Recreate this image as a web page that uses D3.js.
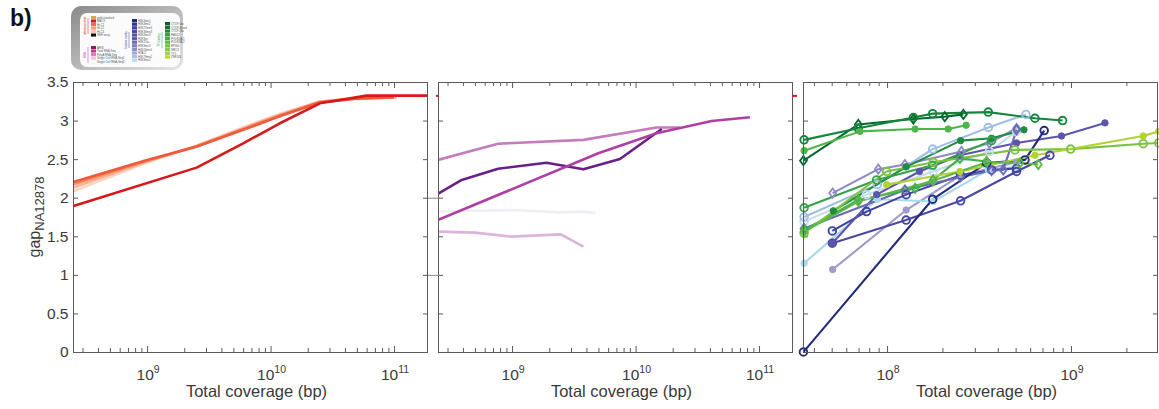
<!DOCTYPE html>
<html><head><meta charset="utf-8">
<script src="https://cdn.jsdelivr.net/npm/d3@7/dist/d3.min.js"></script>
<style>
body{margin:0;background:#fff;}
svg{display:block;font-family:"Liberation Sans",Arial,sans-serif;}
</style></head><body>
<svg id="chart" width="1159" height="409"></svg>
<script>
// ---------- text / ticks ----------
const panelLabel = "b)";
const xLabel = "Total coverage (bp)";
const yLabelMain = "gap";
const yLabelSub = "NA12878";
const yTicks = [0, 0.5, 1, 1.5, 2, 2.5, 3, 3.5];
const yTickLabels = ["0", "0.5", "1", "1.5", "2", "2.5", "3", "3.5"];
const xTickExpWide = [9, 10, 11];
const xTickExpNarrow = [8, 9];

// ---------- panel 1 (assay references, reds) ----------
const p1Colors = ["#d7191c", "#ef5a3a", "#f88a64", "#fcb396", "#fdd5c3"];
const p1Red = [[2.5e8, 1.89], [2.52e9, 2.39], [6.0e9, 2.705], [1.19e10, 2.965], [2.51e10, 3.224], [6.0e10, 3.323], [2.5e11, 3.323]];
const p1Orange = [[2.5e8, 2.20], [1e9, 2.49], [2.5e9, 2.66], [6e9, 2.88], [1.2e10, 3.06], [2.5e10, 3.235], [5e10, 3.285], [1.0e11, 3.30]];
const p1Salmon = [[2.5e8, 2.17], [1e9, 2.48], [2.5e9, 2.665], [6e9, 2.89], [1.2e10, 3.07], [2.5e10, 3.24], [5e10, 3.29], [9e10, 3.30]];
const p1Light = [[2.5e8, 2.13], [1e9, 2.47], [2.5e9, 2.67], [6e9, 2.90], [1.2e10, 3.08], [2.5e10, 3.245], [5e10, 3.29], [1.05e11, 3.30]];
const p1Pale = [[2.5e8, 2.08], [1e9, 2.46], [2.5e9, 2.675], [6e9, 2.91], [1.2e10, 3.09], [2.5e10, 3.25], [5e10, 3.29], [9.5e10, 3.30]];

// ---------- panel 2 (RNA, purples) ----------
const p2Colors = ["#f0eef5", "#dbb4d9", "#c37dbd", "#6a2187", "#ae3fa3"];
const p2VeryLight = [[2.5e8, 1.82], [9.9e8, 1.84], [2.48e9, 1.81], [3.6e9, 1.82], [4.75e9, 1.80]];
const p2Pink = [[2.5e8, 1.56], [5.0e8, 1.547], [9.9e8, 1.495], [2.48e9, 1.525], [3.78e9, 1.365]];
const p2Lilac = [[2.5e8, 2.49], [7.7e8, 2.70], [3.78e9, 2.75], [1.48e10, 2.91], [2.3e10, 2.91]];
const p2Plum = [[2.5e8, 2.05], [3.85e8, 2.225], [7.7e8, 2.376], [1.9e9, 2.454], [3.78e9, 2.368], [7.48e9, 2.502], [1.63e10, 2.891]];
const p2Magenta = [[2.5e8, 1.71], [4.99e9, 2.576], [1.48e10, 2.835], [4.13e10, 2.994], [8.43e10, 3.042]];

// ---------- panel 3 (histone marks & TFs) ----------
const p3Colors = ["#9f9bcb", "#a8d8ea", "#c6dbef", "#4a48a2", "#3d43a0", "#5b56ac", "#8d89c5", "#6c69b6", "#9ebfe3", "#232b7d",
                  "#00692e", "#17843e", "#4db649", "#1e8c41", "#34a24a", "#43ad49", "#7cc242", "#b3d235", "#5db848"];
const p3Markers = ["dot", "dot", "circle", "circle", "circle", "dot", "diamond", "diamond", "circle", "circle",
                   "diamond", "circle", "dot", "dot", "circle", "diamond", "circle", "dot", "diamond"];
const p3LightPurple = [[5.06e7, 1.07], [1.27e8, 1.84], [2.51e8, 2.29], [5.06e8, 2.46]];
const p3LightCyan = [[3.54e7, 1.15], [8.85e7, 1.98], [1.78e8, 1.95], [3.55e8, 2.36], [5.06e8, 2.40]];
const p3PaleBlue = [[3.54e7, 1.69], [7.74e7, 2.04], [1.78e8, 2.34], [3.6e8, 2.60], [5.06e8, 2.86]];
const p3Indigo = [[5.04e7, 1.41], [1.27e8, 1.71], [2.51e8, 1.96], [5.06e8, 2.34], [7.68e8, 2.55]];
const p3Blue = [[5.04e7, 1.57], [7.74e7, 1.82], [1.27e8, 2.04], [2.51e8, 2.29], [3.7e8, 2.36], [5.06e8, 2.38]];
const p3Violet = [[5.04e7, 1.41], [8.78e7, 2.04], [1.5e8, 2.34], [2.49e8, 2.55], [5.06e8, 2.71], [8.88e8, 2.80], [1.53e9, 2.97]];
const p3Lavender = [[5.06e7, 2.06], [8.96e7, 2.37], [1.25e8, 2.43], [2.54e8, 2.60], [3.6e8, 2.71], [5.06e8, 2.90]];
const p3Slate = [[3.54e7, 1.60], [1.25e8, 2.10], [2.51e8, 2.27], [3.7e8, 2.35], [4.28e8, 2.36], [5.06e8, 2.88]];
const p3SkyBlue = [[3.54e7, 1.75], [8.85e7, 2.17], [1.77e8, 2.63], [3.55e8, 2.91], [5.69e8, 3.08]];
const p3Navy = [[3.51e7, 0.0], [1.77e8, 1.98], [3.48e8, 2.45], [5.62e8, 2.49], [7.15e8, 2.87]];
const p3CtcfA = [[3.51e7, 2.48], [6.98e7, 2.95], [1.39e8, 3.02], [2.06e8, 3.05], [2.60e8, 3.08]];
const p3CtcfB = [[3.54e7, 2.75], [6.98e7, 2.90], [1.39e8, 3.04], [1.77e8, 3.09], [3.55e8, 3.11], [6.37e8, 3.03], [9.0e8, 3.0]];
const p3CtcfC = [[3.54e7, 2.61], [7.12e7, 2.86], [1.42e8, 2.89], [2.15e8, 2.89], [2.69e8, 2.94]];
const p3Rad21 = [[5.1e7, 1.83], [1.27e8, 2.40], [2.51e8, 2.74], [3.7e8, 2.77], [5.55e8, 2.88]];
const p3Polr2a = [[3.54e7, 1.87], [8.78e7, 2.23], [1.77e8, 2.42], [3.7e8, 2.74]];
const p3Ep300 = [[3.54e7, 1.58], [6.98e7, 1.97], [1.42e8, 2.12], [1.78e8, 2.23], [2.49e8, 2.51], [3.48e8, 2.47]];
const p3Smc3 = [[3.54e7, 1.54], [9.95e7, 2.34], [1.78e8, 2.46], [4.96e8, 2.62], [9.95e8, 2.63], [2.47e9, 2.70], [3.0e9, 2.71]];
const p3Lime = [[9.95e7, 2.17], [2.49e8, 2.34], [6.37e8, 2.55], [2.47e9, 2.80], [3.0e9, 2.86]];
const p3GreenD = [[3.54e7, 1.56], [6.98e7, 1.95], [1.78e8, 2.22], [3.48e8, 2.46], [5.28e8, 2.45], [6.64e8, 2.43]];

// ---------- legend thumbnail ----------
const legRefColors = ["#e8a33d", "#d7191c", "#f26b4a", "#f99a7a", "#fcc5ae", "#111111"];
const legRefLabels = ["gold standard", "MACS", "Hi-C1", "Hi-C2", "Hi-C3", "SNP array"];
const legRnaColors = ["#8c1f5c", "#d6338e", "#e47fbe", "#eec3e0", "#ffffff"];
const legRnaLabels = ["ARIS", "Total RNA-Seq", "PolyA RNA-Seq", "Single Cell RNA-Seq1", "Single Cell RNA-Seq2"];
const legHistColors = ["#222b7a", "#2e3792", "#3a43a0", "#4a4aa3", "#5450a8", "#625cb0", "#706cb8", "#807dbf", "#908ec8", "#a3a7d4", "#a9c3e4", "#b3dcef"];
const legHistLabels = ["H3K4me1", "H3K4me2", "H3K27me3", "H3K36me3", "H3K4me3", "H3K9ac", "H3K27ac", "H3K9me3", "H4K20me1", "H2A.Z", "H3K79me2", "H3K9me2"];
const legTfColors = ["#00622b", "#0c7535", "#1b8a3e", "#2ea045", "#44ad4a", "#5bb84b", "#76c244", "#8fcb3f", "#a6d23a", "#bbd832"];
const legTfLabels = ["CTCF-Uw", "CTCF-Broad", "CTCF-Uta", "RAD21", "POLR2A-1", "POLR2A-2", "EP300", "SMC3", "YY1", "ZNF143"];

// ================= drawing =================
const svg = d3.select("#chart");
const textColor = "#3a3a3a", axisColor = "#5a5a5a";
const plotTop = 82, plotBottom = 352;
const y = d3.scaleLinear().domain([0, 3.5]).range([plotBottom, plotTop]);

const panels = [
  {x0: 73, x1: 428, dom: [Math.pow(10, 8.4), Math.pow(10, 11.275)], exps: xTickExpWide, yLabels: true,
   series: [p1Pale, p1Light, p1Salmon, p1Orange, p1Red], colors: [p1Colors[4], p1Colors[3], p1Colors[2], p1Colors[1], p1Colors[0]], width: 2.6},
  {x0: 438, x1: 793, dom: [Math.pow(10, 8.4), Math.pow(10, 11.275)], exps: xTickExpWide, yLabels: false,
   series: [p2VeryLight, p2Pink, p2Lilac, p2Plum, p2Magenta], colors: p2Colors, width: 2.6},
  {x0: 803, x1: 1158, dom: [Math.pow(10, 7.543), Math.pow(10, 9.473)], exps: xTickExpNarrow, yLabels: false,
   series: [p3LightPurple, p3LightCyan, p3PaleBlue, p3Indigo, p3Blue, p3Violet, p3Lavender, p3Slate, p3SkyBlue, p3Navy,
            p3CtcfA, p3CtcfB, p3CtcfC, p3Rad21, p3Polr2a, p3Ep300, p3Smc3, p3Lime, p3GreenD],
   colors: p3Colors, markers: p3Markers, width: 2.1}
];

const diamondPath = "M0,-4.6L3.4,0L0,4.6L-3.4,0Z";

panels.forEach((p, pi) => {
  const x = d3.scaleLog().domain(p.dom).range([p.x0, p.x1]);
  const g = svg.append("g");
  const clipId = "clip" + pi;
  svg.append("clipPath").attr("id", clipId).append("rect")
    .attr("x", p.x0).attr("y", plotTop).attr("width", p.x1 - p.x0).attr("height", plotBottom - plotTop);
  const clipId2 = "clipm" + pi;
  svg.append("clipPath").attr("id", clipId2).append("rect")
    .attr("x", p.x0 - 6).attr("y", plotTop - 6).attr("width", p.x1 - p.x0 + 12).attr("height", plotBottom - plotTop + 12);

  const lo = Math.floor(Math.log10(p.dom[0])), hi = Math.ceil(Math.log10(p.dom[1]));
  const minor = [], major = [];
  for (let e = lo; e <= hi; e++) for (let k = 1; k <= 9; k++) {
    const v = k * Math.pow(10, e);
    if (v >= p.dom[0] && v <= p.dom[1]) (k === 1 ? major : minor).push(v);
  }
  const tickStyle = sel => { sel.select(".domain").remove(); sel.selectAll("line").attr("stroke", axisColor); sel.selectAll("text").remove(); };
  g.append("g").attr("transform", `translate(0,${plotBottom})`).call(d3.axisBottom(x).tickValues(minor).tickSize(-4).tickFormat("")).call(tickStyle);
  g.append("g").attr("transform", `translate(0,${plotBottom})`).call(d3.axisBottom(x).tickValues(major).tickSize(-6).tickFormat("")).call(tickStyle);
  g.append("g").attr("transform", `translate(0,${plotTop})`).call(d3.axisTop(x).tickValues(minor).tickSize(-4).tickFormat("")).call(tickStyle);
  g.append("g").attr("transform", `translate(0,${plotTop})`).call(d3.axisTop(x).tickValues(major).tickSize(-6).tickFormat("")).call(tickStyle);
  g.append("g").attr("transform", `translate(${p.x1},0)`).call(d3.axisRight(y).tickValues(yTicks).tickSize(-5).tickFormat("")).call(tickStyle);
  const yl = g.append("g").attr("transform", `translate(${p.x0},0)`)
    .call(d3.axisLeft(y).tickValues(yTicks).tickSize(-5).tickPadding(4.5).tickFormat((d, i) => p.yLabels ? yTickLabels[i] : ""));
  yl.select(".domain").remove();
  yl.selectAll("line").attr("stroke", axisColor);
  yl.selectAll("text").attr("fill", textColor).style("font-size", "15.5px").style("font-family", "'Liberation Sans', Arial, sans-serif");

  const lab = g.append("g").selectAll("text").data(p.exps).join("text")
    .attr("x", d => x(Math.pow(10, d)) + 1).attr("y", 379.5)
    .attr("text-anchor", "middle").attr("fill", textColor).style("font-size", "15.5px");
  lab.append("tspan").text("10");
  lab.append("tspan").attr("dy", -7).style("font-size", "10.5px").text(d => String(d));

  g.append("text").attr("x", (p.x0 + p.x1) / 2 + 6).attr("y", 397).attr("text-anchor", "middle")
    .attr("fill", textColor).style("font-size", "16.5px").text(xLabel);

  const line = d3.line().x(d => x(d[0])).y(d => y(d[1]));
  const lg = g.append("g").attr("clip-path", `url(#${clipId})`);
  const mg = g.append("g").attr("clip-path", `url(#${clipId2})`);
  p.series.forEach((s, si) => {
    const c = p.colors[si];
    lg.append("path").datum(s).attr("d", line).attr("fill", "none").attr("stroke", c)
      .attr("stroke-width", p.width).attr("stroke-linejoin", "round");
    if (p.markers) {
      const m = p.markers[si];
      const pts = mg.append("g").selectAll("g").data(s).join("g")
        .attr("transform", d => `translate(${x(d[0])},${y(d[1])})`);
      if (m === "circle") pts.append("circle").attr("r", 3.8).attr("fill", "none").attr("stroke", c).attr("stroke-width", 1.9);
      else if (m === "dot") pts.append("circle").attr("r", 3.2).attr("fill", c).attr("stroke", c).attr("stroke-width", 1);
      else pts.append("path").attr("d", diamondPath).attr("fill", "none").attr("stroke", c).attr("stroke-width", 1.8);
    }
  });

  g.append("rect").attr("x", p.x0 + 0.5).attr("y", plotTop + 0.5).attr("width", p.x1 - p.x0 - 1).attr("height", plotBottom - plotTop)
    .attr("fill", "none").attr("stroke", axisColor).attr("stroke-width", 1);
});

[[428, 440, 2], [428, 440, 1]].forEach(m => svg.append("line").attr("x1", m[0]).attr("x2", m[1])
  .attr("y1", y(m[2]) + 0.5).attr("y2", y(m[2]) + 0.5).attr("stroke", "#888").attr("stroke-width", 1));
[[436, 439], [792, 797]].forEach(m => svg.append("line").attr("x1", m[0]).attr("x2", m[1])
  .attr("y1", y(3.32)).attr("y2", y(3.32)).attr("stroke", "#d7191c").attr("stroke-width", 2));

const ylab = svg.append("text").attr("transform", "translate(40,217) rotate(-90)").attr("text-anchor", "middle")
  .attr("fill", textColor).style("font-size", "16px");
ylab.append("tspan").text(yLabelMain);
ylab.append("tspan").attr("dy", 4).style("font-size", "13px").text(yLabelSub);

svg.append("text").attr("x", 10).attr("y", 26).style("font-size", "23px").style("font-weight", "bold")
  .attr("fill", "#111").text(panelLabel);

const defs = svg.append("defs");
const grad = defs.append("linearGradient").attr("id", "lgGrad").attr("x1", "0").attr("y1", "0").attr("x2", "1").attr("y2", "1");
grad.append("stop").attr("offset", "0").attr("stop-color", "#8a8a8a");
grad.append("stop").attr("offset", "0.5").attr("stop-color", "#b8b8b8");
grad.append("stop").attr("offset", "1").attr("stop-color", "#e6e6e6");
const leg = svg.append("g");
leg.append("rect").attr("x", 71).attr("y", 6).attr("width", 112).attr("height", 64).attr("rx", 10).attr("fill", "url(#lgGrad)");
leg.append("rect").attr("x", 80).attr("y", 13).attr("width", 100).attr("height", 54).attr("rx", 7).attr("fill", "#fbfbfb");
function legCol(colors, labels, x0, y0, h) {
  const gg = leg.append("g");
  gg.selectAll("rect").data(colors).join("rect")
    .attr("x", x0).attr("y", (d, i) => y0 + i * h).attr("width", 5).attr("height", h - 0.4)
    .attr("fill", d => d).attr("stroke", d => d === "#ffffff" ? "#ddd" : "none").attr("stroke-width", 0.3);
  gg.selectAll("text").data(labels).join("text")
    .attr("x", x0 + 6).attr("y", (d, i) => y0 + i * h + h * 0.8).style("font-size", "2.8px").attr("fill", "#555").text(d => d);
}
legCol(legRefColors, legRefLabels, 91, 16, 3.5);
legCol(legRnaColors, legRnaLabels, 91, 46, 3.5);
legCol(legHistColors, legHistLabels, 132, 19, 3.6);
legCol(legTfColors, legTfLabels, 165, 22, 3.7);
[[86, 26, "#d7191c", "reference data"], [86, 55, "#ae3fa3", "RNA"], [127, 40, "#3a43a0", "histone marks"], [160, 40, "#2ea045", "TF binding"]]
  .forEach(t => {
    leg.append("text").attr("transform", `translate(${t[0]},${t[1]}) rotate(-90)`).attr("text-anchor", "middle")
      .style("font-size", "2.8px").attr("fill", t[2]).text(t[3]);
    leg.append("line").attr("x1", t[0] + 2).attr("x2", t[0] + 2).attr("y1", t[1] - 8).attr("y2", t[1] + 8)
      .attr("stroke", t[2]).attr("stroke-width", 0.5);
  });
</script>
</body></html>
